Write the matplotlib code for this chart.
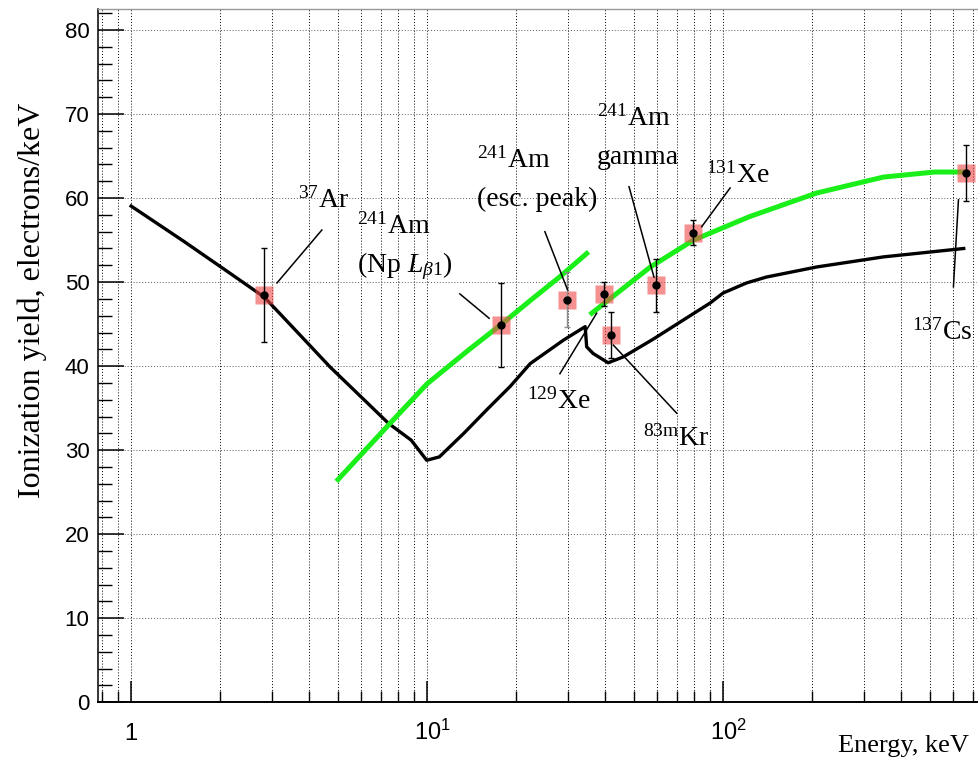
import matplotlib

matplotlib.use("Agg")
import matplotlib.pyplot as plt
from matplotlib.ticker import FixedLocator, MultipleLocator, NullFormatter

plt.rcParams["mathtext.fontset"] = "custom"
plt.rcParams["mathtext.rm"] = "Liberation Serif"
plt.rcParams["mathtext.it"] = "Liberation Serif:italic"
plt.rcParams["mathtext.sf"] = "Liberation Sans"

SERIF = "Liberation Serif"
SANS = "Liberation Sans"

# black curve (model), energy keV -> electrons/keV
model_e = [1.0, 1.5, 2.21, 2.82, 3.5, 4.7, 6.0, 7.4, 8.83, 9.97, 11.0, 13.3,
           15.9, 19.1, 22.3, 28.9, 34.2, 34.6, 36.4, 40.9, 46.0, 58.0, 75.0,
           90.3, 100.0, 120.0, 140.0, 207.0, 348.0, 650.0]
model_y = [59.05, 54.9, 50.8, 48.2, 44.7, 39.9, 36.3, 33.2, 31.2, 28.8, 29.2,
           32.0, 34.8, 37.6, 40.3, 43.1, 44.7, 42.3, 41.5, 40.4, 41.1, 43.2,
           45.7, 47.5, 48.7, 49.9, 50.6, 51.8, 53.0, 54.0]

# green curves (simulation), below and above the Xe K-edge
green_lo_e = [5.0, 7.5, 10.0, 13.9, 17.7, 22.3, 28.0, 34.6]
green_lo_y = [26.5, 33.2, 37.9, 42.0, 44.9, 47.8, 50.6, 53.4]
green_hi_e = [36.0, 45.0, 56.8, 79.4, 123.0, 207.0, 348.0, 519.0, 650.0]
green_hi_y = [46.3, 49.0, 51.8, 55.0, 57.8, 60.6, 62.5, 63.1, 63.1]

# measured points
pt_e = [2.82, 17.7, 29.8, 39.6, 41.7, 59.3, 79.4, 661.0]
pt_y = [48.5, 44.9, 47.9, 48.6, 43.7, 49.6, 55.9, 63.0]
pt_err = [5.6, 5.0, 3.3, 1.4, 2.7, 3.2, 1.5, 3.3]

x_major = [1, 10, 100]
x_major_labels = [r"$\mathregular{1}$", r"$\mathregular{10^{1}}$", r"$\mathregular{10^{2}}$"]

fig = plt.figure(figsize=(9.79, 7.63), dpi=100)
ax = fig.add_axes([0.0996, 0.0796, 0.8984, 0.9086])

ax.plot(model_e, model_y, color="black", lw=2.4, zorder=2, solid_joinstyle="round")
ax.plot(green_lo_e, green_lo_y, color="#1aef1a", lw=3.6, zorder=2.5)
ax.plot(green_hi_e, green_hi_y, color="#1aef1a", lw=3.6, zorder=2.5)

ax.plot(pt_e, pt_y, ls="none", marker="s", ms=13, mfc="#f04848", mec="none",
        alpha=0.6, zorder=3)
bar_colors = ["black", "black", "0.55", "black", "black", "black", "black", "black"]
for e, y, err, c in zip(pt_e, pt_y, pt_err, bar_colors):
    ax.errorbar([e], [y], yerr=[err], fmt="none", ecolor=c, elinewidth=1.0,
                capsize=2.5, capthick=1.0, zorder=4)
ax.plot(pt_e, pt_y, ls="none", marker="o", ms=5, color="black", zorder=5)

# annotations: (label lines, text anchor (E, y), pointer from, pointer to)
notes = [
    ([r"$^{37}$Ar"], (3.67, 58.9), (4.41, 56.2), (3.11, 49.9)),
    ([r"$^{241}$Am", r"(Np $L_{\beta\mathit{1}}$)"], (5.79, 55.8), (12.9, 48.6), (16.2, 45.7)),
    ([r"$^{241}$Am", "(esc. peak)"], (14.7, 63.6), (25.0, 56.0), (29.8, 49.1)),
    ([r"$^{241}$Am", "gamma"], (37.4, 68.6), (48.1, 61.35), (58.4, 50.6)),
    ([r"$^{129}$Xe"], (21.7, 35.0), (28.1, 39.1), (37.4, 46.3)),
    ([r"$^{83\mathrm{m}}$Kr"], (53.7, 30.6), (42.6, 42.5), (69.7, 34.4)),
    ([r"$^{131}$Xe"], (87.6, 61.8), (105.6, 61.2), (84.7, 56.6)),
    ([r"$^{137}$Cs"], (434.0, 43.2), (600.0, 49.45), (624.0, 59.8)),
]
line_gap = 4.6  # data units between the two text lines
for lines, (tx, ty), p0, p1 in notes:
    for i, s in enumerate(lines):
        ax.text(tx, ty - i * line_gap, s, fontsize=20, family=SERIF,
                ha="left", va="baseline", zorder=6)
    ax.plot([p0[0], p1[0]], [p0[1], p1[1]], color="black", lw=1.1, zorder=6)

ax.set_xscale("log")
ax.set_xlim(0.770, 721)
ax.set_ylim(0, 82.5)

ax.xaxis.set_major_locator(FixedLocator(x_major))
ax.xaxis.set_minor_locator(FixedLocator(
    [0.8, 0.9] + [m * d for d in (1, 10, 100) for m in range(2, 10) if m * d < 721]))
ax.xaxis.set_major_formatter(NullFormatter())
ax.xaxis.set_minor_formatter(NullFormatter())
ax.yaxis.set_major_locator(MultipleLocator(10))
ax.yaxis.set_minor_locator(MultipleLocator(2))

ax.tick_params(axis="x", which="major", direction="in", length=15, width=1.1)
ax.tick_params(axis="x", which="minor", direction="in", length=8, width=1.0)
ax.tick_params(axis="y", which="major", direction="in", length=18.5, width=1.1,
               labelsize=16, pad=5.8)
ax.tick_params(axis="y", which="minor", direction="in", length=10, width=1.0)
for lab in ax.get_yticklabels():
    lab.set_family(SANS)

for v, s in zip(x_major, x_major_labels):
    dx = 0 if v == 1 else 4
    ax.annotate(s, xy=(v, 0), xycoords=ax.get_xaxis_transform(),
                xytext=(dx, -27), textcoords="offset points",
                ha="center", va="baseline", fontsize=17, family=SANS)

ax.grid(True, axis="x", which="both", color="black", lw=0.7, ls=(0, (1, 2)))
ax.grid(True, axis="y", which="major", color="0.35", lw=0.7, ls=(0, (1, 2)))
ax.set_axisbelow(True)

ax.spines["right"].set_visible(False)
ax.spines["top"].set_color("0.6")
ax.spines["top"].set_linewidth(1.0)
ax.spines["left"].set_linewidth(1.1)
ax.spines["bottom"].set_linewidth(1.4)

ax.set_ylabel("Ionization yield, electrons/keV", family=SERIF, fontsize=23)
ax.yaxis.set_label_coords(-0.057, 0.58)
ax.text(0.991, -0.0717, "Energy, keV", transform=ax.transAxes, family=SERIF,
        fontsize=19, ha="right", va="baseline")

fig.savefig("out.png", dpi=100)
plt.close(fig)
